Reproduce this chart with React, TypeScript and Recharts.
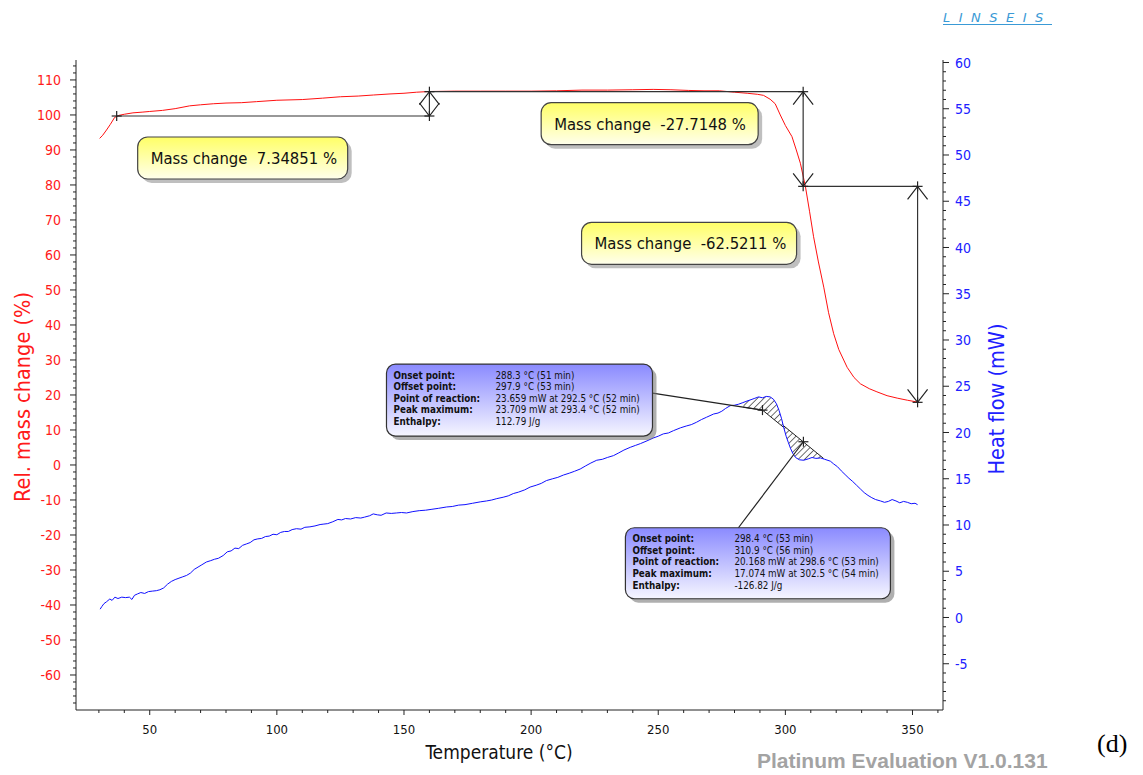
import React from 'react';
import { ComposedChart, Line, Area, XAxis, YAxis, ReferenceLine, ReferenceDot } from 'recharts';

// temperature (°C) -> relative mass change (%)
const massCurve: [number, number][] = [
  [30.3, 93.3], [31.5, 94.2], [33, 95.7], [34.5, 97.3], [36.2, 99.3], [38, 99.9], [40, 100.2],
  [43.4, 100.6], [47, 100.8], [50, 101.0], [55, 101.3], [60, 101.8], [65.7, 102.6], [70, 102.9],
  [75, 103.2], [80, 103.4], [86, 103.5], [92, 103.8], [100, 104.2], [110, 104.4], [118, 104.8],
  [125, 105.2], [132, 105.4], [138, 105.7], [144.5, 106.0], [150, 106.2], [155, 106.5], [160, 106.7],
  [170, 106.8], [180, 106.8], [190, 106.8], [200, 106.8], [210, 106.9], [220, 107.1], [230, 107.1],
  [240, 107.2], [248, 107.3], [255, 107.2], [262, 107.0], [268, 106.9], [274, 106.9], [280, 106.5],
  [285, 106.2], [289, 105.9], [291.4, 105.6], [294, 104.5], [296, 103.2], [298, 100.0], [300, 97.0],
  [302.6, 93.8], [304.3, 90.0], [305.9, 86.2], [307.9, 79.5], [309.5, 72.5], [311.1, 65.2], [313, 58],
  [315.1, 50.8], [317, 43.5], [319, 37.5], [321, 33], [324.3, 27.9], [327, 25], [329.5, 23.2],
  [333, 21.8], [336, 20.9], [340, 19.8], [344, 19.1], [348, 18.5], [352.5, 17.9],
];

// temperature (°C) -> heat flow (mW)
const heatCurve: [number, number][] = [
  [30.5, 0.9], [31.2, 1.2], [32, 1.5], [33, 1.7], [34.3, 2.0], [35.2, 1.85], [36.3, 2.2], [37.5, 2.05],
  [39, 2.2], [40.5, 2.15], [42, 2.2], [43, 1.95], [44, 2.4], [45.2, 2.55], [46.5, 2.7], [48, 2.6],
  [49.5, 2.8], [51, 2.85], [52.6, 2.9], [54, 3.0], [55.5, 3.2], [57, 3.6], [58.5, 3.9], [60, 4.1],
  [61.5, 4.25], [63, 4.4], [64.5, 4.55], [66, 4.8], [67.5, 5.2], [69, 5.45], [70.5, 5.7], [72.3, 6.0],
  [74, 6.15], [75.5, 6.3], [77, 6.4], [78.9, 6.7], [80.5, 7.1], [82, 7.2], [83.5, 7.5], [85, 7.45],
  [86.5, 7.8], [88, 7.95], [89.5, 8.1], [91, 8.4], [92.5, 8.5], [94, 8.55], [95.5, 8.75], [97, 8.8],
  [98.5, 9.0], [100, 8.95], [101.5, 9.2], [103, 9.3], [104.5, 9.3], [106, 9.5], [107.7, 9.6],
  [109.5, 9.55], [111, 9.75], [113, 9.8], [115, 9.9], [117, 10.05], [118.5, 10.1], [120, 10.15],
  [122, 10.35], [124, 10.6], [125.5, 10.55], [127, 10.7], [129, 10.65], [131, 10.8], [133, 10.75],
  [134.5, 10.85], [136.5, 11.0], [137.9, 11.2], [139.5, 11.1], [141, 11.05], [143, 11.3], [145, 11.25],
  [147, 11.3], [149, 11.35], [151, 11.3], [153.5, 11.45], [156, 11.55], [158.5, 11.6], [161, 11.7],
  [163.5, 11.8], [166.8, 11.95], [169, 12.0], [171.5, 12.15], [174, 12.2], [177, 12.35], [180, 12.5],
  [182.5, 12.6], [184.5, 12.7], [186.5, 12.85], [189, 13.0], [191, 13.15], [193, 13.4], [195, 13.55],
  [197.5, 13.8], [199.6, 14.1], [202, 14.3], [204, 14.5], [206, 14.8], [208.5, 15.0], [210.5, 15.15],
  [212.7, 15.4], [215, 15.6], [217, 15.8], [219.3, 16.05], [221.5, 16.4], [223.5, 16.7], [225.8, 17.0],
  [228, 17.1], [230, 17.3], [232.4, 17.5], [234.5, 17.8], [236.5, 18.1], [239, 18.4], [241, 18.6],
  [243, 18.8], [245.6, 19.1], [248, 19.4], [250, 19.6], [252, 19.85], [254, 19.95], [256, 20.2],
  [258.7, 20.5], [261, 20.7], [263, 20.85], [265, 21.1], [267, 21.4], [269, 21.65], [271.8, 22.0],
  [273.5, 22.1], [275, 22.3], [276.5, 22.6], [278.3, 22.9], [280, 22.95], [281.5, 23.05], [283, 23.2],
  [284.9, 23.4], [286.5, 23.55], [288, 23.7], [289.5, 23.85], [291, 23.75], [292.5, 23.9], [294, 23.85],
  [295.3, 23.6], [296.5, 23.1], [297.5, 22.4], [298.5, 21.5], [299.3, 20.6], [300.3, 19.6], [301.2, 18.9],
  [302, 18.3], [303, 17.7], [304, 17.3], [305.5, 17.05], [307.2, 17.0], [309, 17.15], [310.5, 17.3],
  [312, 17.2], [313.8, 17.25], [315.5, 17.1], [317.7, 16.9], [319, 16.6], [320.5, 16.3], [322, 15.85],
  [323.5, 15.45], [325, 15.05], [326.5, 14.7], [328, 14.3], [329.5, 13.9], [331, 13.5], [332.5, 13.2],
  [334, 12.95], [335.5, 12.75], [337.4, 12.6], [339, 12.45], [340.5, 12.55], [342, 12.75], [343.5, 12.6],
  [345, 12.4], [346.5, 12.55], [348, 12.45], [349.5, 12.3], [351, 12.35], [352, 12.2],
];

const tempTicks = [50, 100, 150, 200, 250, 300, 350];
const massTicks = [-60, -50, -40, -30, -20, -10, 0, 10, 20, 30, 40, 50, 60, 70, 80, 90, 100, 110];
const heatTicks = [-5, 0, 5, 10, 15, 20, 25, 30, 35, 40, 45, 50, 55, 60];

// mass change steps: brackets between these temperatures / levels
const stepTemps = [37, 160, 307, 352];
const stepLevels = [99.7, 106.65, 79.6, 17.9];
const massChanges = ['7.34851', '-27.7148', '-62.5211'];
// label box offset (px) from the bracket corner
const massBoxOffsets = [[21, 21, 210], [-262, 11, 217], [-336, 36, 215]];

// peak evaluation
const peakBaselines: [number, number][][] = [
  [[283.5, 22.74], [291, 22.42], [299.2, 20.58]],
  [[299.2, 20.75], [315, 17.2]],
];
const reactionPoints: [number, number][] = [[291, 22.42], [307.1, 19.0]];
const peakInfoLabels = ['Onset point:', 'Offset point:', 'Point of reaction:', 'Peak maximum:', 'Enthalpy:'];
const peakInfoValues = [
  ['288.3 °C (51 min)', '297.9 °C (53 min)', '23.659 mW at 292.5 °C (52 min)', '23.709 mW at 293.4 °C (52 min)', '112.79 J/g'],
  ['298.4 °C (53 min)', '310.9 °C (56 min)', '20.168 mW at 298.6 °C (53 min)', '17.074 mW at 302.5 °C (54 min)', '-126.82 J/g'],
];
const infoBoxes = [
  { x: -376, y: -46, w: 266, h: 72, ax: -110, ay: -17 },
  { x: -178, y: 86, w: 265, h: 71, ax: -65, ay: 86 },
];

const UI_FONT = 'Tahoma, "DejaVu Sans Condensed", "DejaVu Sans", sans-serif';

const massData = massCurve.map(([t, v]) => ({ t, v }));
const heatData = heatCurve.map(([t, v]) => ({ t, v }));

const interp = (pts: [number, number][], t: number) => {
  for (let i = 1; i < pts.length; i++) {
    if (t <= pts[i][0]) {
      const [t0, v0] = pts[i - 1];
      const [t1, v1] = pts[i];
      return v0 + ((v1 - v0) * (t - t0)) / (t1 - t0);
    }
  }
  return pts[pts.length - 1][1];
};

const hatchData = peakBaselines.map((base) => {
  const start = base[0][0];
  const end = base[base.length - 1][0];
  const ts = [start, ...heatCurve.map((p) => p[0]).filter((t) => t > start && t < end), end];
  return ts.map((t) => ({ t, range: [interp(base, t), interp(heatCurve, t)] }));
});

const minor = (from: number, to: number, step: number) => {
  const out: number[] = [];
  for (let v = from; v <= to + 1e-9; v += step) out.push(Math.round(v * 100) / 100);
  return out;
};

const LeftTick = (props: any) => {
  const { x, y, payload } = props;
  const major = massTicks.includes(payload.value);
  return (
    <g>
      <line x1={x - (major ? 6 : 3)} x2={x} y1={y} y2={y} stroke="#222" />
      {major && (
        <text x={x - 15} y={y} dy="0.36em" textAnchor="end" fill="#ff1a1a" fontSize={14} fontFamily={UI_FONT}>
          {payload.value}
        </text>
      )}
    </g>
  );
};

const RightTick = (props: any) => {
  const { x, y, payload } = props;
  const major = heatTicks.includes(payload.value);
  return (
    <g>
      <line x1={x} x2={x + (major ? 6 : 3)} y1={y} y2={y} stroke="#222" />
      {major && (
        <text x={x + 12} y={y} dy="0.36em" textAnchor="start" fill="#2020ff" fontSize={14} fontFamily={UI_FONT}>
          {payload.value}
        </text>
      )}
    </g>
  );
};

const BottomTick = (props: any) => {
  const { x, y, payload } = props;
  const major = tempTicks.includes(payload.value);
  return (
    <g>
      <line x1={x} x2={x} y1={y} y2={y + (major ? 5 : 3)} stroke="#222" />
      {major && (
        <text x={x} y={y + 19} dy="0.36em" textAnchor="middle" fill="#111" fontSize={13} fontFamily={UI_FONT}>
          {payload.value}
        </text>
      )}
    </g>
  );
};

const Cross = ({ cx, cy, s = 5 }: { cx: number; cy: number; s?: number }) => (
  <g stroke="#222" strokeWidth={1.2}>
    <line x1={cx - s} x2={cx + s} y1={cy} y2={cy} />
    <line x1={cx} x2={cx} y1={cy - s} y2={cy + s} />
  </g>
);

// arrow head with its tip on the point; dir -1 points up, 1 points down
const ArrowEnd = (props: any) => {
  const { cx, cy, dir } = props;
  return (
    <g>
      <path d={`M${cx - 10},${cy - dir * 13} L${cx},${cy} L${cx + 10},${cy - dir * 13}`} fill="none" stroke="#222" strokeWidth={1.2} />
      <Cross cx={cx} cy={cy} />
    </g>
  );
};

const MassBox = (props: any) => {
  const { cx, cy, i } = props;
  const [dx, dy, w] = massBoxOffsets[i];
  const x = cx + dx;
  const y = cy + dy;
  return (
    <g>
      <rect x={x + 4} y={y + 4} width={w} height={42} rx={10} fill="#8a8a8a" opacity={0.55} />
      <rect x={x} y={y} width={w} height={42} rx={10} fill="url(#massGrad)" stroke="#444" strokeWidth={1.2} />
      <text x={x + 13} y={y + 21} dy="0.36em" fontSize={16.5} fontFamily={UI_FONT} fill="#111" style={{ whiteSpace: 'pre' }}>
        {`Mass change  ${massChanges[i]} %`}
      </text>
    </g>
  );
};

const InfoBox = (props: any) => {
  const { cx, cy, i } = props;
  const b = infoBoxes[i];
  const x = cx + b.x;
  const y = cy + b.y;
  return (
    <g>
      <line x1={cx + b.ax} y1={cy + b.ay} x2={cx} y2={cy} stroke="#222" strokeWidth={1.2} />
      <rect x={x + 4} y={y + 4} width={b.w} height={b.h} rx={9} fill="#7a7a7a" opacity={0.6} />
      <rect x={x} y={y} width={b.w} height={b.h} rx={9} fill="url(#infoGrad)" stroke="#333" strokeWidth={1.2} />
      {peakInfoLabels.map((lab, r) => (
        <g key={lab}>
          <text x={x + 7} y={y + 11 + r * 11.6} dy="0.36em" fontSize={9.8} fontWeight="bold" fontFamily={UI_FONT} fill="#111">
            {lab}
          </text>
          <text x={x + 109} y={y + 11 + r * 11.6} dy="0.36em" fontSize={9.8} fontFamily={UI_FONT} fill="#111">
            {peakInfoValues[i][r]}
          </text>
        </g>
      ))}
      <Cross cx={cx} cy={cy} />
    </g>
  );
};

export default function App() {
  return (
    <div style={{ position: 'relative', width: 1135, height: 767, background: '#fff' }}>
      <ComposedChart width={1135} height={767} margin={{ top: 52, right: 140, bottom: 15, left: 0 }}>
        <defs>
          <linearGradient id="massGrad" x1="0" y1="0" x2="0" y2="1">
            <stop offset="0%" stopColor="#ffff66" />
            <stop offset="100%" stopColor="#ffffec" />
          </linearGradient>
          <linearGradient id="infoGrad" x1="0" y1="0" x2="0" y2="1">
            <stop offset="0%" stopColor="#8a8aff" />
            <stop offset="100%" stopColor="#f6f6ff" />
          </linearGradient>
          <pattern id="hatch" patternUnits="userSpaceOnUse" width={4.5} height={4.5} patternTransform="rotate(45)">
            <line x1={0} y1={0} x2={0} y2={4.5} stroke="#111" strokeWidth={1.2} />
          </pattern>
        </defs>
        <XAxis
          dataKey="t"
          type="number"
          domain={[21, 362]}
          ticks={minor(30, 360, 10)}
          interval={0}
          tick={<BottomTick />}
          tickLine={false}
          tickSize={0}
          tickMargin={0}
          height={50}
          stroke="#222"
          allowDataOverflow
          label={{
            content: ({ viewBox }: any) => (
              <text x={viewBox.x + 423} y={viewBox.y + 42} dy="0.36em" textAnchor="middle" fontSize={19} fontFamily={UI_FONT} fill="#111">
                Temperature (°C)
              </text>
            ),
          }}
        />
        <YAxis
          yAxisId="left"
          orientation="left"
          type="number"
          domain={[-70, 115.7]}
          ticks={minor(-68, 114, 2)}
          interval={0}
          tick={<LeftTick />}
          tickLine={false}
          tickSize={0}
          tickMargin={0}
          width={68}
          stroke="#222"
          allowDataOverflow
          label={{
            content: ({ viewBox }: any) => (
              <text
                transform={`translate(${viewBox.x + 14}, ${viewBox.y + viewBox.height / 2 + 12}) rotate(-90)`}
                textAnchor="middle"
                dy="0.36em"
                fontSize={21.5}
                fontFamily={UI_FONT}
                fill="#ff1a1a"
              >
                Rel. mass change (%)
              </text>
            ),
          }}
        />
        <YAxis
          yAxisId="right"
          orientation="right"
          type="number"
          domain={[-10, 60.27]}
          ticks={minor(-9, 60, 1)}
          interval={0}
          tick={<RightTick />}
          tickLine={false}
          tickSize={0}
          tickMargin={0}
          width={60}
          stroke="#222"
          allowDataOverflow
          label={{
            content: ({ viewBox }: any) => (
              <text
                transform={`translate(${viewBox.x + 53}, ${viewBox.y + viewBox.height / 2 + 14}) rotate(-90)`}
                textAnchor="middle"
                dy="0.36em"
                fontSize={21.5}
                fontFamily={UI_FONT}
                fill="#2020ff"
              >
                Heat flow (mW)
              </text>
            ),
          }}
        />

        {hatchData.map((d, i) => (
          <Area
            key={`hatch${i}`}
            yAxisId="right"
            data={d}
            dataKey="range"
            type="linear"
            fill="url(#hatch)"
            fillOpacity={1}
            stroke="none"
            isAnimationActive={false}
          />
        ))}
        {peakBaselines.map((base, i) => (
          <Line
            key={`base${i}`}
            yAxisId="right"
            data={base.map(([t, v]) => ({ t, v }))}
            dataKey="v"
            type="linear"
            stroke="#222"
            strokeWidth={1}
            dot={false}
            isAnimationActive={false}
          />
        ))}
        <Line yAxisId="right" data={heatData} dataKey="v" type="linear" stroke="#1010ff" strokeWidth={1} dot={false} isAnimationActive={false} />
        <Line yAxisId="left" data={massData} dataKey="v" type="linear" stroke="#ff1010" strokeWidth={1} dot={false} isAnimationActive={false} />

        {massChanges.map((_, i) => (
          <ReferenceLine
            key={`h${i}`}
            yAxisId="left"
            segment={[
              { x: stepTemps[i], y: stepLevels[i] },
              { x: stepTemps[i + 1], y: stepLevels[i] },
            ]}
            stroke="#333"
            strokeWidth={1.2}
          />
        ))}
        {massChanges.map((_, i) => (
          <ReferenceLine
            key={`v${i}`}
            yAxisId="left"
            segment={[
              { x: stepTemps[i + 1], y: stepLevels[i] },
              { x: stepTemps[i + 1], y: stepLevels[i + 1] },
            ]}
            stroke="#333"
            strokeWidth={1.2}
          />
        ))}
        <ReferenceDot yAxisId="left" x={stepTemps[0]} y={stepLevels[0]} shape={(p: any) => <Cross cx={p.cx} cy={p.cy} />} />
        {massChanges.map((_, i) => {
          const up = stepLevels[i + 1] > stepLevels[i];
          return (
            <React.Fragment key={`a${i}`}>
              <ReferenceDot yAxisId="left" x={stepTemps[i + 1]} y={stepLevels[i]} shape={(p: any) => <ArrowEnd cx={p.cx} cy={p.cy} dir={up ? 1 : -1} />} />
              <ReferenceDot yAxisId="left" x={stepTemps[i + 1]} y={stepLevels[i + 1]} shape={(p: any) => <ArrowEnd cx={p.cx} cy={p.cy} dir={up ? -1 : 1} />} />
            </React.Fragment>
          );
        })}
        {massChanges.map((_, i) => (
          <ReferenceDot
            key={`mb${i}`}
            yAxisId="left"
            x={stepTemps[i === 0 ? 0 : i + 1]}
            y={stepLevels[i]}
            shape={(p: any) => <MassBox cx={p.cx} cy={p.cy} i={i} />}
          />
        ))}
        {reactionPoints.map(([t, v], i) => (
          <ReferenceDot key={`ib${i}`} yAxisId="right" x={t} y={v} shape={(p: any) => <InfoBox cx={p.cx} cy={p.cy} i={i} />} />
        ))}
      </ComposedChart>

      <div
        style={{
          position: 'absolute',
          left: 935,
          top: 3,
          fontFamily: '"DejaVu Sans", sans-serif',
          fontStyle: 'italic',
          fontSize: 13,
          letterSpacing: 8.5,
          color: '#3a9ad6',
          borderBottom: '1.5px solid #3a9ad6',
          paddingBottom: 0,
          lineHeight: '13px',
        }}
      >
        LINSEIS
      </div>
      <div
        style={{
          position: 'absolute',
          left: 749,
          top: 741,
          fontFamily: '"Liberation Sans", Arial, sans-serif',
          fontWeight: 'bold',
          fontSize: 21,
          color: '#a3a3a3',
          whiteSpace: 'nowrap',
        }}
      >
        Platinum Evaluation V1.0.131
      </div>
      <div
        style={{
          position: 'absolute',
          left: 1089,
          top: 721,
          fontFamily: '"Liberation Serif", "Times New Roman", serif',
          fontSize: 26,
          color: '#000',
        }}
      >
        (d)
      </div>
    </div>
  );
}
